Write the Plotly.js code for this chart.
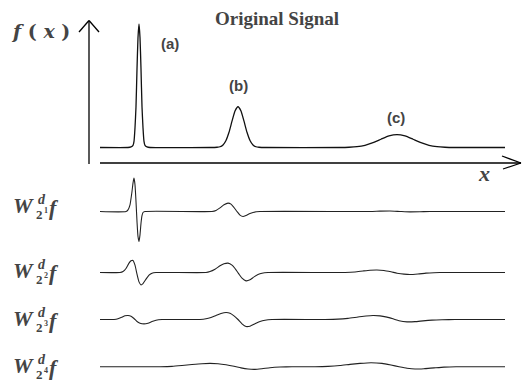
<!DOCTYPE html>
<html><head><meta charset="utf-8">
<script src="https://cdn.plot.ly/plotly-3.0.1.min.js"></script>
<style>html,body{margin:0;padding:0;background:#fff;}#chart{width:523px;height:385px;}</style>
</head><body><div id="chart"></div>
<script>
// ---- data ----
const signalX = [0, 28, 31, 33, 34, 35, 36, 37, 38, 39, 40, 41, 42, 43, 44, 45, 47, 50, 110, 117, 120, 123, 126, 129, 132, 135, 138, 141, 144, 147, 150, 153, 156, 159, 166, 240, 249, 257, 265, 273, 281, 289, 297, 305, 313, 321, 329, 337, 345, 354, 406];
const signalY = [0, 0, 0.005, 0.017, 0.05, 0.16, 0.33, 0.635, 0.89, 1.0, 0.89, 0.635, 0.33, 0.16, 0.05, 0.017, 0.005, 0, 0, 0.002, 0.006, 0.021, 0.057, 0.123, 0.213, 0.296, 0.33, 0.296, 0.213, 0.123, 0.057, 0.021, 0.006, 0.002, 0, 0, 0.002, 0.0066, 0.018, 0.039, 0.067, 0.094, 0.105, 0.094, 0.067, 0.039, 0.018, 0.0066, 0.002, 0, 0];

const w1X = [0, 26, 28, 30, 32, 33, 34, 35, 36, 37, 38, 39, 40, 41, 42, 43, 45, 112, 116, 120, 124, 128, 131, 134, 137, 140, 143, 146, 150, 154, 160, 270, 280, 290, 300, 310, 320, 330, 405];
const w1Y = [0, 0, 0.05, 0.2, 0.6, 0.85, 1.0, 0.8, 0.3, -0.3, -0.75, -0.9, -0.7, -0.35, -0.12, -0.03, 0, 0, 0.03, 0.11, 0.2, 0.25, 0.22, 0.12, 0, -0.11, -0.15, -0.12, -0.06, -0.02, 0, 0, 0.01, 0.015, 0, -0.012, -0.008, 0, 0];

const w2X = [0, 20, 23, 26, 29, 31, 33, 35, 37, 39, 41, 43, 46, 49, 52, 56, 106, 110, 115, 120, 124, 128, 132, 136, 139, 142, 146, 150, 154, 158, 162, 168, 245, 255, 263, 270, 277, 284, 291, 297, 304, 310, 318, 326, 334, 345, 405];
const w2Y = [0, 0, 0.03, 0.12, 0.28, 0.35, 0.36, 0.22, -0.05, -0.28, -0.37, -0.33, -0.2, -0.08, -0.02, 0, 0, 0.03, 0.1, 0.2, 0.26, 0.28, 0.22, 0.08, -0.05, -0.17, -0.25, -0.22, -0.13, -0.06, -0.02, 0, 0, 0.015, 0.045, 0.068, 0.075, 0.06, 0.02, -0.02, -0.05, -0.06, -0.045, -0.02, -0.006, 0, 0];

const w3X = [0, 14, 18, 22, 25, 28, 31, 34, 37, 40, 44, 48, 52, 56, 62, 100, 106, 111, 116, 121, 126, 130, 134, 138, 142, 146, 150, 155, 160, 165, 172, 225, 238, 248, 258, 266, 273, 280, 287, 293, 299, 307, 315, 323, 332, 342, 355, 405];
const w3Y = [0, 0, 0.02, 0.07, 0.11, 0.12, 0.1, 0.03, -0.06, -0.11, -0.13, -0.11, -0.06, -0.02, 0, 0, 0.02, 0.06, 0.12, 0.18, 0.21, 0.19, 0.11, 0, -0.13, -0.21, -0.2, -0.13, -0.06, -0.02, 0, 0, 0.01, 0.035, 0.075, 0.105, 0.12, 0.11, 0.07, 0.02, -0.035, -0.07, -0.065, -0.04, -0.018, -0.006, 0, 0];

const w4X = [0, 60, 72, 82, 92, 102, 110, 118, 126, 134, 141, 148, 155, 162, 170, 180, 192, 215, 228, 240, 250, 260, 271, 282, 291, 299, 307, 315, 324, 334, 344, 356, 405];
const w4Y = [0, 0, 0.01, 0.035, 0.065, 0.09, 0.1, 0.09, 0.06, 0.015, -0.035, -0.07, -0.08, -0.06, -0.03, -0.01, 0, 0, 0.01, 0.035, 0.07, 0.1, 0.12, 0.1, 0.05, 0, -0.045, -0.07, -0.06, -0.035, -0.012, 0, 0];

const peakLabels = ['(a)', '(b)', '(c)'];
const peakLabelX = [70, 138, 296];
const peakLabelY = [0.84, 0.506, 0.247];
const scaleExponents = ['1', '2', '3', '4'];
const chartTitle = 'Original Signal';

// ---- layout helpers (pixel -> paper) ----
const W = 523, H = 385;
const px = p => p / W;
const py = p => 1 - p / H;

const rowX = [w1X, w2X, w3X, w4X];
const rowY = [w1Y, w2Y, w3Y, w4Y];
const rowBase = [211.5, 272.5, 319.5, 366.7];
const rowHalf = [37, 16, 12, 10];
const S = 33.4; // px per amplitude unit
const labelMid = [205.5, 270, 318.5, 365.5];

const traces = [{
  x: signalX, y: signalY, xaxis: 'x', yaxis: 'y', mode: 'lines',
  line: {color: '#111', width: 1.3, shape: 'spline', smoothing: 0.5}, hoverinfo: 'skip'
}];
const layout = {
  width: W, height: H, margin: {l: 0, r: 0, t: 0, b: 0},
  showlegend: false,
  xaxis: {domain: [px(100), px(505)], range: [0, 405], visible: false, anchor: 'y'},
  yaxis: {domain: [py(150), py(22)], range: [-2.5 / 123.5, 125.5 / 123.5], visible: false, anchor: 'x'},
  annotations: [], shapes: []
};

const ann = (text, x, y, family, size, xanchor) => ({text: text, xref: 'paper', yref: 'paper', x: px(x), y: py(y),
  xanchor: xanchor || 'left', yanchor: 'middle', showarrow: false, font: {family: family, size: size}});

layout.annotations.push(ann('<b>' + chartTitle + '</b>', 277, 18, 'Times New Roman', 19, 'center'));

for (let i = 0; i < 4; i++) {
  const name = 'y' + (i + 2);
  traces.push({x: rowX[i], y: rowY[i], xaxis: 'x', yaxis: name, mode: 'lines',
    line: {color: '#222', width: 1.1, shape: 'spline', smoothing: 0.5}, hoverinfo: 'skip'});
  const h = rowHalf[i];
  layout['yaxis' + (i + 2)] = {domain: [py(rowBase[i] + h), py(rowBase[i] - h)], range: [-h / S, h / S],
    visible: false, anchor: 'x'};
  const m = labelMid[i];
  layout.annotations.push(
    ann('<b><i>W</i></b>', 11, m, 'Liberation Serif', 22),
    ann('<b><i>d</i></b>', 36, m - 6, 'Liberation Serif', 14),
    ann('<b>2</b>', 34, m + 9, 'Liberation Serif', 13),
    ann('<b>' + scaleExponents[i] + '</b>', 41.5, m + 5, 'Liberation Serif', 8),
    ann('<b><i>f</i></b>', 47, m + 2, 'Liberation Serif', 22)
  );
}

for (let k = 0; k < peakLabels.length; k++) {
  layout.annotations.push({text: '<b>' + peakLabels[k] + '</b>', xref: 'x', yref: 'y', x: peakLabelX[k], y: peakLabelY[k],
    xanchor: 'center', yanchor: 'middle', showarrow: false, font: {family: 'Arial', size: 15}});
}
layout.annotations.push(
  ann('<b><i>f</i> ( <i>x</i> )</b>', 9, 31, 'DejaVu Serif', 19),
  ann('<b><i>x</i></b>', 484, 173, 'Times', 22, 'center')
);

const ln = (x0, y0, x1, y1) => ({type: 'line', xref: 'paper', yref: 'paper', x0: px(x0), y0: py(y0), x1: px(x1), y1: py(y1), line: {color: '#000', width: 1.3}});
layout.shapes.push(
  ln(89, 164, 89, 21), ln(79, 32, 89, 20.5), ln(89, 20.5, 99, 32),
  ln(100, 163, 521, 163), ln(502, 156, 521, 163), ln(521, 163, 503, 169)
);

Plotly.newPlot('chart', traces, layout, {staticPlot: true});
</script>
</body></html>
